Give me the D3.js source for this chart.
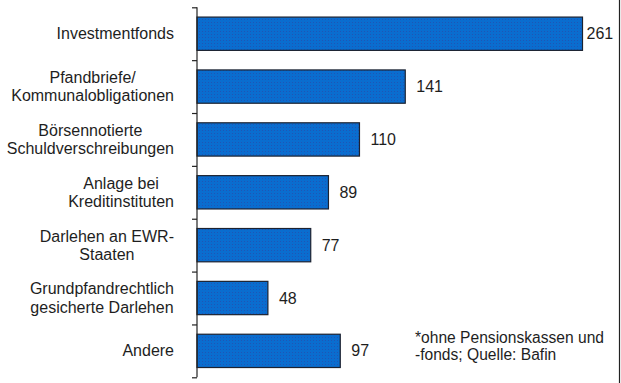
<!DOCTYPE html>
<html>
<head>
<meta charset="utf-8">
<script src="https://cdn.jsdelivr.net/npm/d3@7"></script>
<style>
  html, body { margin: 0; padding: 0; background: #fff; }
  svg { display: block; }
  text { font-family: "Liberation Sans", Arial, sans-serif; fill: #1e1e1e; }
</style>
</head>
<body>
<svg id="chart" width="621" height="383"></svg>
<script>
const categories = [
  ["Investmentfonds"],
  ["Pfandbriefe/", "Kommunalobligationen"],
  ["Börsennotierte", "Schuldverschreibungen"],
  ["Anlage bei", "Kreditinstituten"],
  ["Darlehen an EWR-", "Staaten"],
  ["Grundpfandrechtlich", "gesicherte Darlehen"],
  ["Andere"]
];
const values = [261, 141, 110, 89, 77, 48, 97];
const footnote = ["*ohne Pensionskassen und", "-fonds; Quelle: Bafin"];

(function () {
const svg = d3.select("#chart");
const W = 621, H = 383;
const plotLeft = 197, plotTop = 7.3, plotBottom = 377.3;
const labelRight = 174;

const defs = svg.append("defs");
const pat = defs.append("pattern")
  .attr("id", "dots").attr("width", 3).attr("height", 3)
  .attr("patternUnits", "userSpaceOnUse");
pat.append("rect").attr("width", 3).attr("height", 3).attr("fill", "#0A6DCF");
pat.append("rect").attr("x", 1).attr("y", 1).attr("width", 1).attr("height", 1).attr("fill", "#1F55B5");

const y = d3.scaleBand()
  .domain(d3.range(categories.length))
  .range([plotTop, plotBottom])
  .paddingInner(0.37)
  .paddingOuter(0.185);

const x = d3.scaleLinear().domain([0, 261]).range([plotLeft, 582.5]);

// bars
svg.append("g").selectAll("rect")
  .data(values)
  .join("rect")
  .attr("x", x(0))
  .attr("y", (d, i) => y(i))
  .attr("width", d => x(d) - x(0))
  .attr("height", y.bandwidth())
  .attr("fill", "url(#dots)")
  .attr("stroke", "#1c2230")
  .attr("stroke-width", 1.2);

// axis with ticks at band boundaries
const yAxisScale = d3.scaleLinear().domain([0, categories.length]).range([plotTop, plotBottom]);
const axis = svg.append("g").attr("transform", `translate(${plotLeft},0)`)
  .call(d3.axisLeft(yAxisScale).tickValues(d3.range(categories.length + 1)).tickSize(5).tickFormat(""));
axis.select(".domain").attr("stroke", "#222").attr("stroke-width", 1.2).attr("d", `M0,${plotTop}V${plotBottom}`);
axis.selectAll(".tick line").attr("stroke", "#222").attr("stroke-width", 1.2);

// category labels: block right-aligned, lines centred within block
const lineH = 18.5;
const cats = svg.append("g").selectAll("text")
  .data(categories)
  .join("text")
  .attr("text-anchor", "middle")
  .attr("font-size", 16)
  .attr("y", (d, i) => y(i) + y.bandwidth() / 2 + 5.6 - (d.length - 1) * lineH / 2);
cats.each(function(d) {
  const t = d3.select(this);
  d.forEach((line, k) => {
    t.append("tspan").attr("dy", k === 0 ? 0 : lineH).text(line);
  });
  let maxW = 0;
  t.selectAll("tspan").each(function() { maxW = Math.max(maxW, this.getComputedTextLength()); });
  const cx = labelRight - maxW / 2;
  t.attr("x", cx);
  t.selectAll("tspan").attr("x", cx);
});

// value labels
svg.append("g").selectAll("text")
  .data(values)
  .join("text")
  .attr("font-size", 16)
  .attr("x", d => Math.min(x(d) + 11, 586.5))
  .attr("y", (d, i) => y(i) + y.bandwidth() / 2 + 5.6)
  .text(d => d);

// footnote
const fn = svg.append("text").attr("font-size", 15.6).attr("x", 415).attr("y", 343.3);
footnote.forEach((line, k) => {
  fn.append("tspan").attr("x", 415).attr("dy", k === 0 ? 0 : 16.8).text(line);
});

// right border line
svg.append("line").attr("x1", 619.5).attr("x2", 619.5).attr("y1", 0).attr("y2", H)
  .attr("stroke", "#222").attr("stroke-width", 1.2);
})();
</script>
</body>
</html>
